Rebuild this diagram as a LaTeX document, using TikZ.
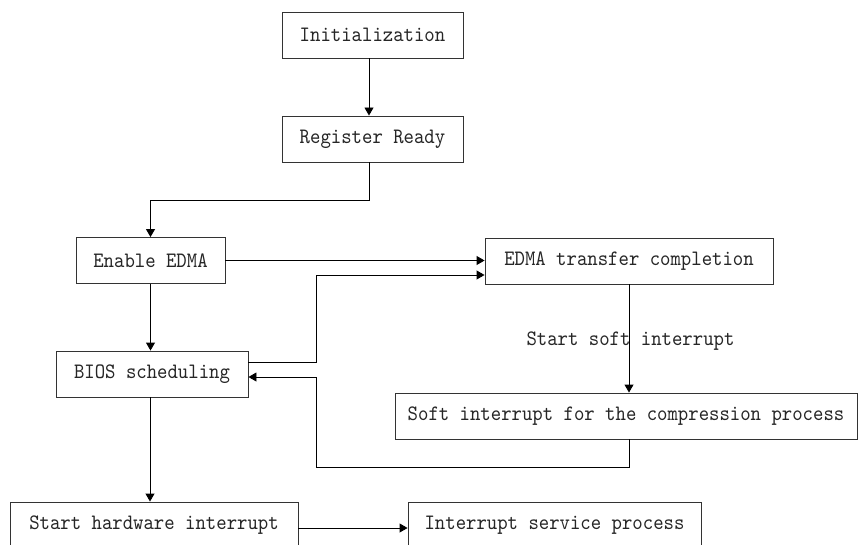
\documentclass[tikz,border=0pt]{standalone}
\usepackage{fontspec}
\newfontfamily\boxfont{lmmono10-regular.otf}[FakeStretch=0.9]
\usetikzlibrary{arrows.meta}
\tikzset{
  box/.style={draw=black!80, line width=0.9pt, fill=white, minimum height=46pt, inner sep=0pt,
    font=\boxfont\fontsize{22}{24}\selectfont, text=black!85},
  arr/.style={line width=0.9pt, -{Triangle[length=8pt,width=9pt]}},
  ln/.style={line width=0.9pt},
  lbl/.style={font=\boxfont\fontsize{22}{24}\selectfont, text=black!85, inner sep=0pt}
}
\begin{document}
\begin{tikzpicture}[x=1pt,y=1pt]
\useasboundingbox (0,0) rectangle (858,-545);
\node[box, minimum width=181pt] (init) at (372.5,-35) {Initialization};
\node[box, minimum width=181pt] (reg) at (372.5,-139) {Register Ready};
\node[box, minimum width=149pt] (enable) at (150.5,-260.5) {Enable EDMA};
\node[box, minimum width=288pt] (edma) at (629,-261) {EDMA transfer completion};
\node[box, minimum width=192pt] (bios) at (152,-374) {BIOS scheduling};
\node[box, minimum width=462pt] (soft) at (626,-416) {Soft interrupt for the compression process};
\node[box, minimum width=288pt] (hw) at (154,-525) {Start hardware interrupt};
\node[box, minimum width=293pt] (isr) at (554.5,-525) {Interrupt service process};

\coordinate (j1) at (316,-275);
\coordinate (j2) at (316,-467);
\coordinate (j3) at (369,-200);

\draw[arr] ([xshift=-3.5pt]init.south) -- ([xshift=-3.5pt]reg.north);
\draw[arr] ([xshift=-3.5pt]reg.south) -- (j3) -| (enable.north);
\draw[arr] (enable.east) -- (enable.east -| edma.west);
\draw[arr] (enable.south) -- (enable.south |- bios.north);
\draw[arr] ([yshift=12pt]bios.east) -| (j1) -- (j1 -| edma.west);
\draw[arr] (edma.south) -- (edma.south |- soft.north);
\draw[arr] (edma.south |- soft.south) |- (j2) |- ([yshift=-3pt]bios.east);
\draw[arr] ([xshift=-2pt]bios.south) -- ([xshift=-4pt]hw.north);
\draw[arr] ([yshift=-3pt]hw.east) -- ([yshift=-3pt]isr.west);

\node[lbl] (start) at (630.5,-341) {Start soft interrupt};
\end{tikzpicture}
\end{document}
